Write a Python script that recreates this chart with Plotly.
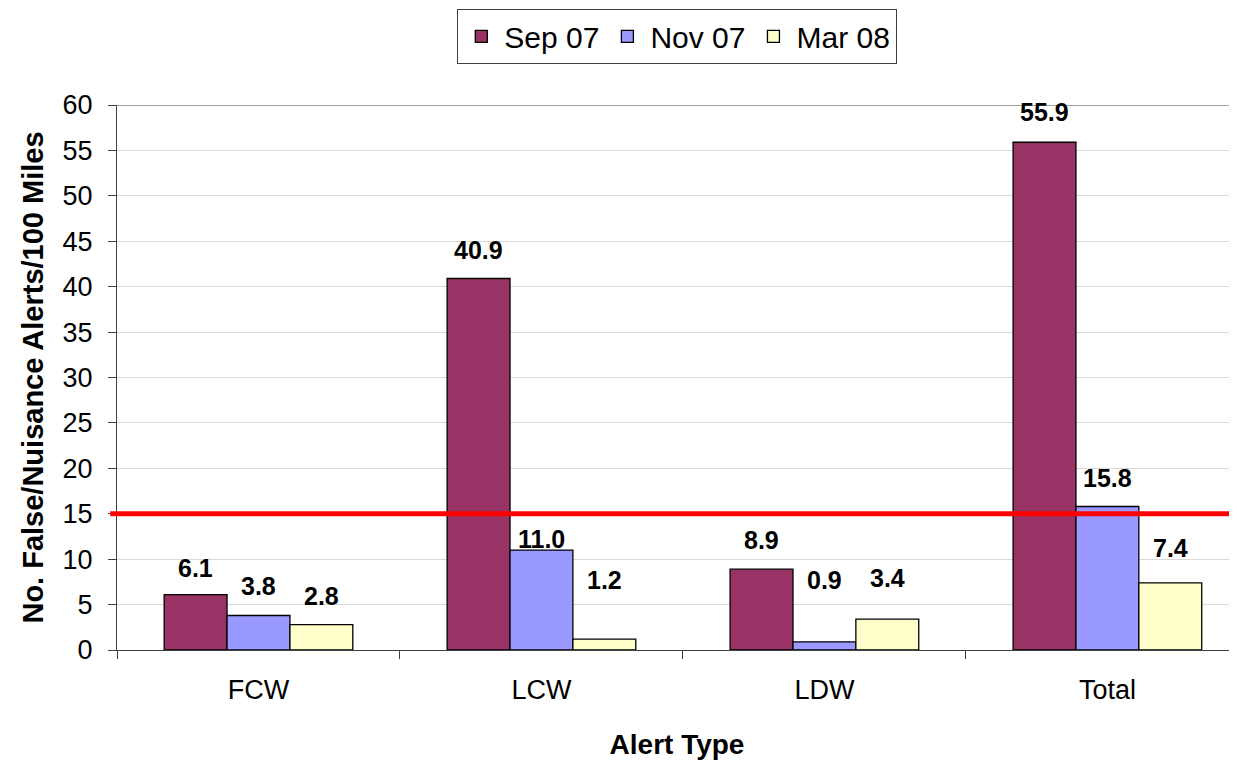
import plotly.graph_objects as go

categories = ["FCW", "LCW", "LDW", "Total"]
series_names = ["Sep 07", "Nov 07", "Mar 08"]
sep07 = [6.1, 40.9, 8.9, 55.9]
nov07 = [3.8, 11.0, 0.9, 15.8]
mar08 = [2.8, 1.2, 3.4, 7.4]
threshold = 15
y_ticks = list(range(0, 61, 5))

# styling: pixel lift of each data label centre above its bar top
label_lift = [[27, 28, 29, 30], [29, 11, 62, 28], [29, 59, 41, 35]]

colors = ["#993366", "#9999FF", "#FFFFCC"]
FONT = "Liberation Sans, Arial, sans-serif"

# the page body has an 8px margin, so the figure is 8px smaller
W, H = 1229, 754
ML, MR, MT, MB = 109, 0, 97, 112
x_range = [-0.5, 3.458]
bargap = 1/3
plot_h = H - MT - MB

fig = go.Figure()
all_series = [sep07, nov07, mar08]
for name, vals, col in zip(series_names, all_series, colors):
    fig.add_trace(go.Bar(
        x=categories, y=vals, name=name,
        marker=dict(color=col, line=dict(color="black", width=1.3)),
    ))

# data labels
plot_w = W - ML - MR
px_per_unit = plot_w / (x_range[1] - x_range[0])
bar_w_units = (1 - bargap) / len(all_series)
for i, vals in enumerate(all_series):
    shift = (i - (len(all_series) - 1) / 2) * bar_w_units * px_per_unit
    for j, (c, v) in enumerate(zip(categories, vals)):
        fig.add_annotation(
            x=c, y=v, text=f"<b>{v:.1f}</b>", showarrow=False,
            xshift=shift, yshift=label_lift[i][j], yanchor="middle",
            font=dict(family=FONT, size=25, color="black"),
        )

fig.add_shape(type="line", xref="paper", yref="y", x0=0, x1=1,
              y0=60, y1=60, line=dict(color="#808080", width=1.5),
              layer="below")
fig.add_shape(type="line", xref="paper", yref="y", x0=-0.006, x1=1,
              y0=threshold, y1=threshold, line=dict(color="#FF0000", width=5),
              layer="above")

fig.update_layout(
    width=W, height=H,
    margin=dict(l=ML, r=MR, t=MT, b=MB, autoexpand=False),
    paper_bgcolor="white", plot_bgcolor="white",
    barmode="group", bargap=bargap, bargroupgap=0,
    font=dict(family=FONT, color="black"),
    legend=dict(
        orientation="h", x=0.5, xanchor="center", y=1 + 96/plot_h, yanchor="top",
        font=dict(family=FONT, size=30, color="black"),
        bordercolor="#404040", borderwidth=1.3, bgcolor="white",
        itemwidth=36, traceorder="normal",
    ),
    xaxis=dict(
        range=x_range, showgrid=False, showline=True, linecolor="#404040",
        linewidth=1.3, ticks="outside", tickson="boundaries", ticklen=8,
        tickcolor="#404040", tickfont=dict(family=FONT, size=27),
        ticklabelstandoff=15,
        title=dict(text="<b>Alert Type</b>", font=dict(family=FONT, size=28), standoff=30),
        automargin=False,
    ),
    yaxis=dict(
        range=[0, 60], tickvals=y_ticks, showgrid=True, gridcolor="#D9D9D9",
        gridwidth=1, showline=True, linecolor="#404040", linewidth=1.3,
        ticks="outside", ticklen=8, tickcolor="#404040",
        tickfont=dict(family=FONT, size=27), zeroline=False,
        ticklabelstandoff=10,
        title=dict(text="<b>No. False/Nuisance Alerts/100 Miles</b>",
                   font=dict(family=FONT, size=29), standoff=10),
        automargin=False,
    ),
)

fig.write_html("out.html")
